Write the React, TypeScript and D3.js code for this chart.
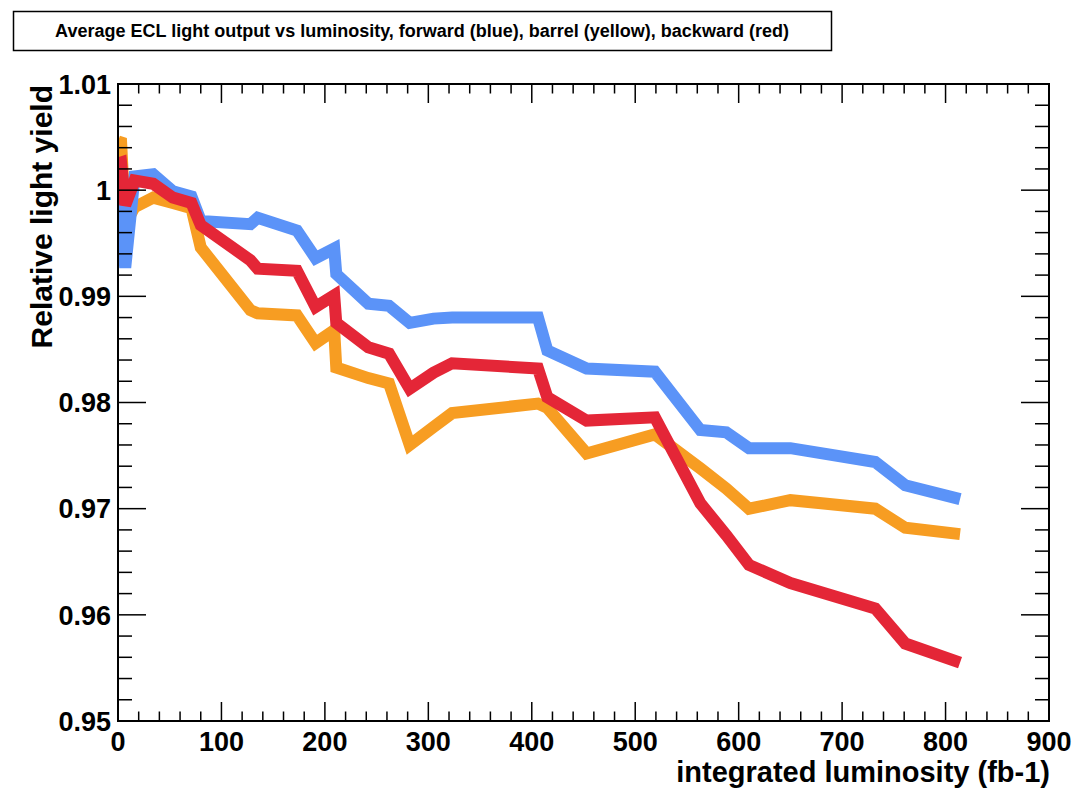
import React from "react";
import * as d3 from "d3";

// integrated luminosity (fb-1) of each measurement
const lumi = [0, 3, 7, 16, 34, 53, 71, 80, 128, 135, 173, 191, 209, 211, 242, 262, 282, 305, 323, 406, 415, 453, 519, 563, 588, 610, 650, 732, 761, 814];

// relative light yield per region
const forward = [0.9995, 0.9968, 0.9927, 1.0013, 1.0015, 0.9999, 0.9994, 0.9971, 0.9968, 0.9974, 0.9962, 0.9936, 0.9945, 0.9921, 0.9893, 0.9891, 0.9875, 0.9879, 0.9880, 0.9880, 0.9849, 0.9832, 0.9829, 0.9774, 0.9772, 0.9757, 0.9757, 0.9744, 0.9722, 0.9709];
const barrel = [1.0046, 1.0045, 0.9968, 0.9984, 0.9993, 0.9988, 0.9983, 0.9946, 0.9887, 0.9884, 0.9882, 0.9856, 0.9868, 0.9833, 0.9823, 0.9818, 0.9760, 0.9777, 0.9790, 0.9799, 0.9795, 0.9752, 0.9770, 0.9738, 0.9719, 0.9700, 0.9708, 0.9700, 0.9682, 0.9676];
const backward = [1.0025, 1.0026, 0.9986, 1.0009, 1.0006, 0.9993, 0.9988, 0.9967, 0.9934, 0.9926, 0.9924, 0.9890, 0.9901, 0.9875, 0.9852, 0.9846, 0.9813, 0.9828, 0.9837, 0.9832, 0.9805, 0.9783, 0.9786, 0.9705, 0.9675, 0.9647, 0.9630, 0.9606, 0.9573, 0.9555];

// drawing order: barrel under forward under backward
const series = [
    { name: "barrel", values: barrel, color: "#f79d22" },
    { name: "forward", values: forward, color: "#5b93f8" },
    { name: "backward", values: backward, color: "#e42637" },
];

const yTickLabels = ["0.95", "0.96", "0.97", "0.98", "0.99", "1", "1.01"];
const xTickLabels = ["0", "100", "200", "300", "400", "500", "600", "700", "800", "900"];

const title = "Average ECL light output vs luminosity, forward (blue), barrel (yellow), backward (red)";

const font = "'Liberation Sans', Arial, Helvetica, sans-serif";

const App = () => {
    const left = 118;
    const right = 1049;
    const top = 84;
    const bottom = 721;

    const x = d3.scaleLinear().domain([0, 900]).range([left, right]);
    const y = d3.scaleLinear().domain([0.95, 1.01]).range([bottom, top]);

    const line = d3.line<number>()
        .x((_, i) => x(lumi[i]))
        .y((d) => y(d));

    const xMajor = xTickLabels.map(Number);
    const xMinor = d3.range(0, 901, 20).filter((v) => v % 100 !== 0);
    const yMajor = yTickLabels.map(Number);
    const yMinor = d3.range(0, 31).map((i) => 0.95 + i * 0.002).filter((_, i) => i % 5 !== 0);

    return (
        <svg width={1078} height={788} style={{ position: "absolute", left: 0, top: 0, background: "#fff" }}>
            <rect x={0} y={0} width={1078} height={788} fill="#fff" />

            {/* title box */}
            <rect x={13.5} y={11.5} width={818} height={39} fill="#fff" stroke="#000" strokeWidth={1.5} />
            <text x={422} y={37} textAnchor="middle" fontFamily={font} fontWeight="bold" fontSize={18}>{title}</text>

            <defs>
                <clipPath id="plotClip">
                    <rect x={left} y={top} width={right - left} height={bottom - top} />
                </clipPath>
            </defs>

            {/* data */}
            <g clipPath="url(#plotClip)">
                {series.map((s) => (
                    <path key={s.name} d={line(s.values) ?? ""} fill="none" stroke={s.color}
                        strokeWidth={12} strokeLinejoin="miter" strokeMiterlimit={4} strokeLinecap="butt" />
                ))}
            </g>

            {/* frame */}
            <rect x={left} y={top} width={right - left} height={bottom - top} fill="none" stroke="#000" strokeWidth={2} />

            {/* ticks on all four sides */}
            <g stroke="#000" strokeWidth={1.5}>
                {xMajor.map((v) => (
                    <g key={"xM" + v}>
                        <line x1={x(v)} x2={x(v)} y1={bottom} y2={bottom - 19} />
                        <line x1={x(v)} x2={x(v)} y1={top} y2={top + 19} />
                    </g>
                ))}
                {xMinor.map((v) => (
                    <g key={"xm" + v}>
                        <line x1={x(v)} x2={x(v)} y1={bottom} y2={bottom - 9.5} />
                        <line x1={x(v)} x2={x(v)} y1={top} y2={top + 9.5} />
                    </g>
                ))}
                {yMajor.map((v) => (
                    <g key={"yM" + v}>
                        <line x1={left} x2={left + 28} y1={y(v)} y2={y(v)} />
                        <line x1={right} x2={right - 28} y1={y(v)} y2={y(v)} />
                    </g>
                ))}
                {yMinor.map((v) => (
                    <g key={"ym" + v}>
                        <line x1={left} x2={left + 14} y1={y(v)} y2={y(v)} />
                        <line x1={right} x2={right - 14} y1={y(v)} y2={y(v)} />
                    </g>
                ))}
            </g>

            {/* tick labels */}
            <g fontFamily={font} fontWeight="bold" fontSize={27}>
                {xTickLabels.map((t) => (
                    <text key={"xl" + t} x={x(+t)} y={751} textAnchor="middle">{t}</text>
                ))}
                {yTickLabels.map((t) => (
                    <text key={"yl" + t} x={111} y={y(+t)} dy="0.36em" textAnchor="end">{t}</text>
                ))}
            </g>

            {/* axis titles */}
            <text x={1050} y={782} textAnchor="end" fontFamily={font} fontWeight="bold" fontSize={29}>
                integrated luminosity (fb-1)
            </text>
            <text transform="translate(52,85) rotate(-90)" textAnchor="end" fontFamily={font} fontWeight="bold" fontSize={30}>
                Relative light yield
            </text>
        </svg>
    );
};

export default App;
